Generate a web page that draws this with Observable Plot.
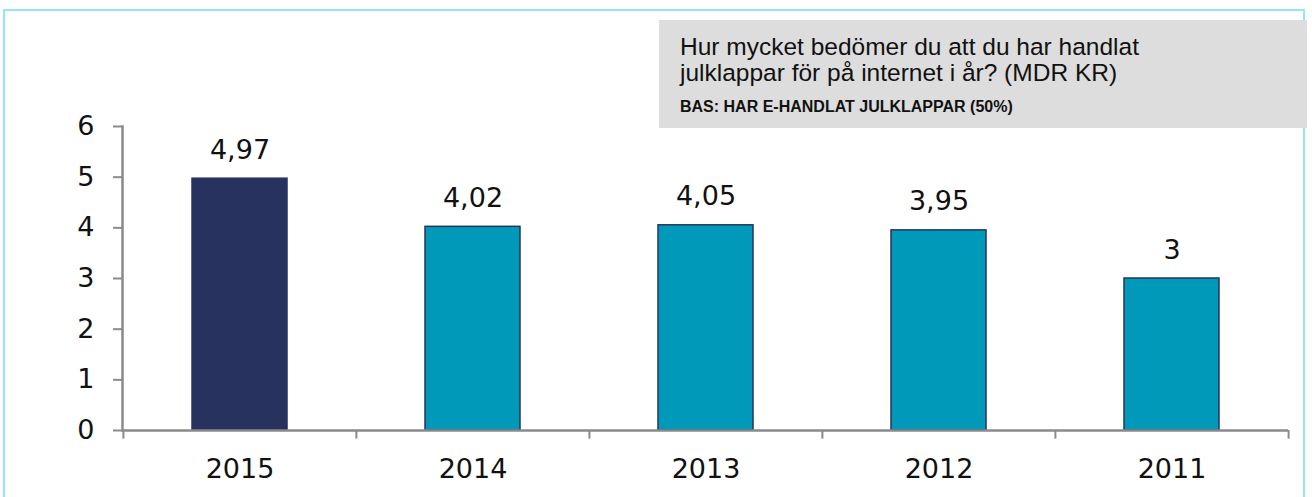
<!DOCTYPE html>
<html>
<head>
<meta charset="utf-8">
<script src="https://cdn.jsdelivr.net/npm/d3@7"></script>
<script src="https://cdn.jsdelivr.net/npm/@observablehq/plot@0.6"></script>
<style>
  html, body { margin: 0; padding: 0; background: #fff; overflow: hidden; }
  #wrap { position: relative; width: 1312px; height: 497px; }
  #frame { position: absolute; left: 3px; top: 9px; width: 1302px; height: 520px; border: 2px solid #94e5f5; box-sizing: border-box; }
  #chart { position: absolute; left: 0; top: 0; }
  #box { position: absolute; left: 659px; top: 20px; width: 648px; height: 108px; background: #dddddd; }
  #box .l { position: absolute; left: 21px; font-family: "Liberation Sans", Arial, sans-serif; color: #111; white-space: nowrap; line-height: 1; }
  #box .q { font-size: 24.5px; }
  #box .b { font-size: 16px; font-weight: bold; }
</style>
</head>
<body>
<div id="wrap">
  <div id="frame"></div>
  <div id="chart"></div>
  <div id="box">
    <div class="l q" style="top:15px">Hur mycket bedömer du att du har handlat</div>
    <div class="l q" style="top:40.5px">julklappar för på internet i år? (MDR KR)</div>
    <div class="l b" style="top:78.5px">BAS: HAR E-HANDLAT JULKLAPPAR (50%)</div>
  </div>
</div>
<script>
const years = ["2015", "2014", "2013", "2012", "2011"];
const values = [4.97, 4.02, 4.05, 3.95, 3];
const yTicks = [0, 1, 2, 3, 4, 5, 6];

const navy = "#27335e";
const teal = "#0099ba";
const axisGray = "#8a8a8a";

const data = years.map((y, i) => ({year: y, value: values[i]}));
const fmt = v => String(v).replace(".", ",");

const W = 1312, H = 497, mL = 122, mR = 24, mT = 126, mB = 67;
const step = (W - mL - mR) / years.length;
const pad = 1 - 95 / step;

const chart = Plot.plot({
  width: W,
  height: H,
  marginLeft: mL,
  marginRight: mR,
  marginTop: mT,
  marginBottom: mB,
  style: {fontFamily: "DejaVu Sans, sans-serif", fontSize: "27px", color: "#111", background: "transparent"},
  x: {domain: years, paddingInner: pad, paddingOuter: pad / 2, label: null},
  y: {domain: [0, 6], label: null},
  marks: [
    Plot.barY(data, {x: "year", y: "value", fill: d => d.year === "2015" ? navy : teal, stroke: navy, strokeWidth: 1.5}),
    Plot.frame({anchor: "left", stroke: axisGray, strokeWidth: 2.5}),
    Plot.ruleY([0], {stroke: axisGray, strokeWidth: 2.5}),
    Plot.ruleX(years, {x: d => d, y1: 0, y2: -0.17, dx: -step / 2, stroke: axisGray, strokeWidth: 2}),
    Plot.ruleX([years[years.length - 1]], {x: d => d, y1: 0, y2: -0.17, dx: step / 2, stroke: axisGray, strokeWidth: 2}),
    Plot.axisY({ticks: yTicks, tickFormat: d => String(d), tickSize: 9, tickPadding: 19, stroke: axisGray, strokeWidth: 2, fill: "#111", label: null}),
    Plot.axisX({tickSize: 0, tickPadding: 28, fill: "#111", label: null}),
    Plot.text(data, {x: "year", y: "value", text: d => fmt(d.value), lineAnchor: "bottom", dy: -20, fill: "#111"})
  ]
});
document.getElementById("chart").appendChild(chart);
</script>
</body>
</html>
